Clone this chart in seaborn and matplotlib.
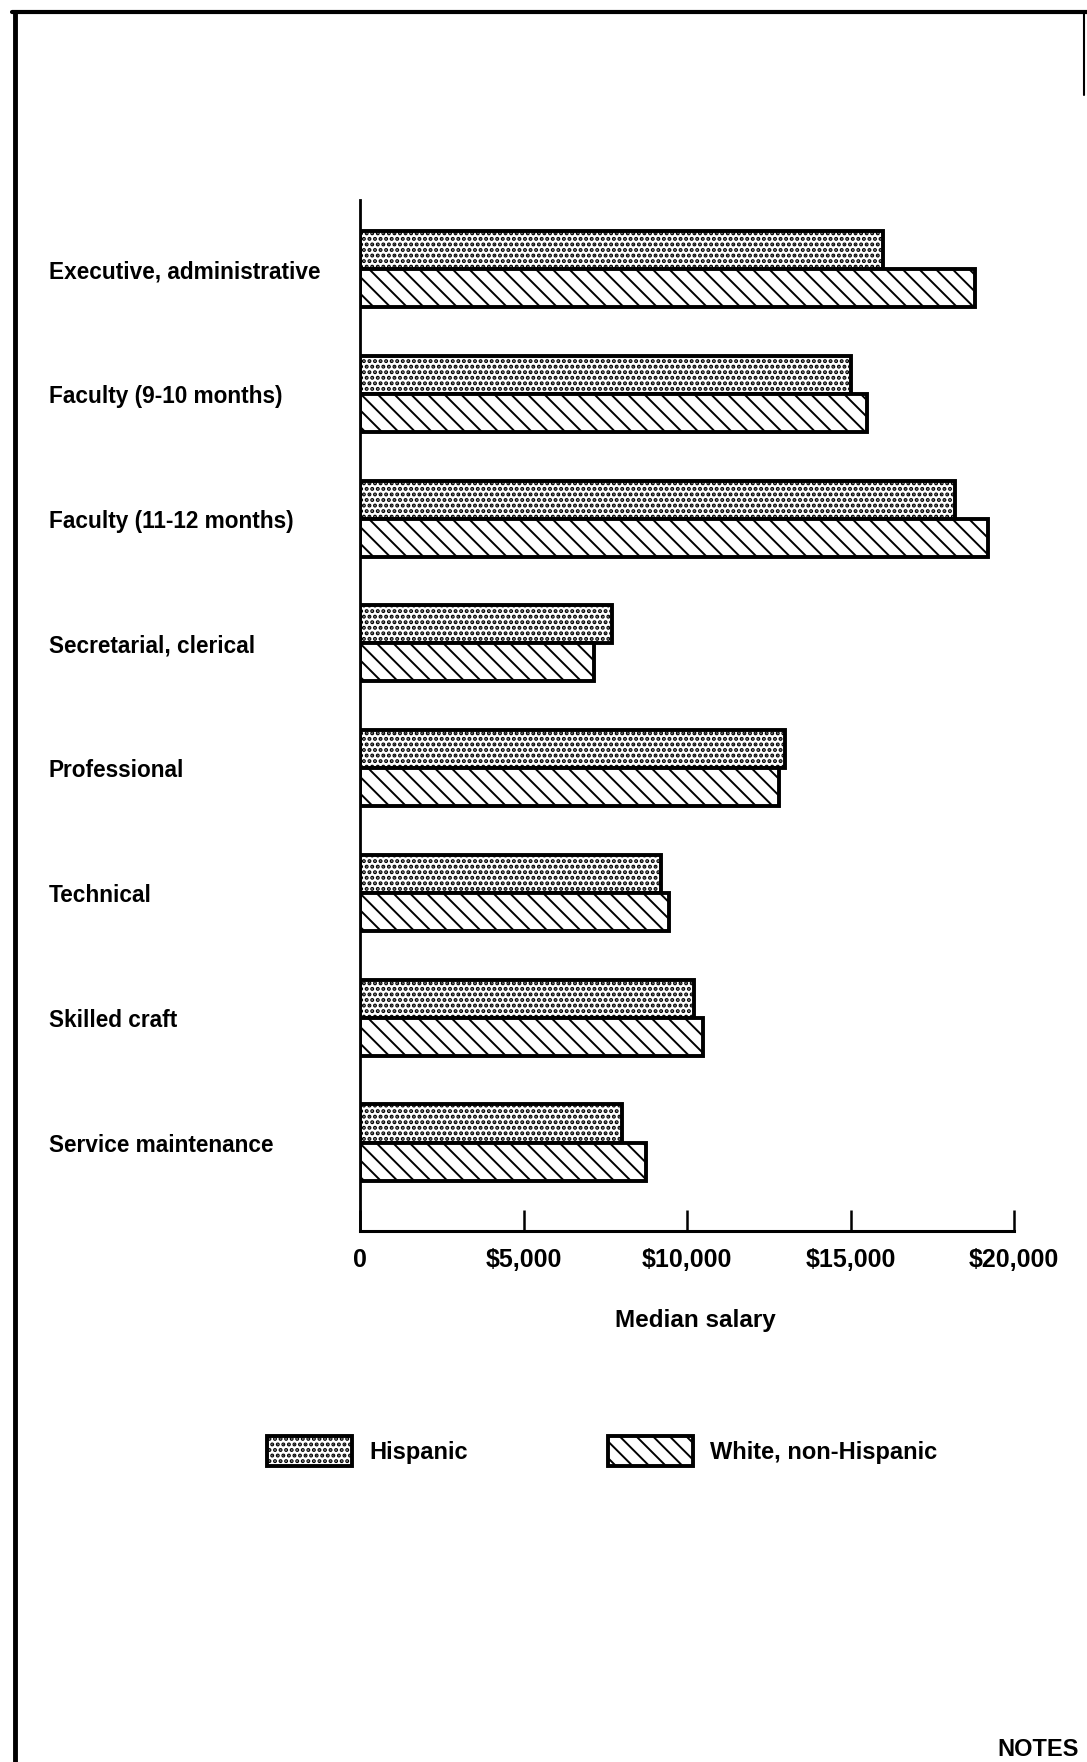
import pandas as pd
import matplotlib.pyplot as plt
import seaborn as sns
from matplotlib.patches import Patch
from matplotlib.lines import Line2D

occupations = ['Executive, administrative', 'Faculty (9-10 months)', 'Faculty (11-12 months)',
               'Secretarial, clerical', 'Professional', 'Technical', 'Skilled craft',
               'Service maintenance']
hispanic = [16000, 15000, 18200, 7700, 13000, 9200, 10200, 8000]
white = [18800, 15500, 19200, 7150, 12800, 9450, 10500, 8750]
groups = ['Hispanic', 'White, non-Hispanic']
xticks = [0, 5000, 10000, 15000, 20000]
xticklabels = ['0', '$5,000', '$10,000', '$15,000', '$20,000']

df = pd.DataFrame({'occupation': occupations, groups[0]: hispanic, groups[1]: white})
df = df.melt(id_vars='occupation', var_name='group', value_name='salary')

sns.set_style('white')
plt.rcParams['font.family'] = ['Liberation Sans', 'DejaVu Sans']
plt.rcParams['font.weight'] = 'bold'
plt.rcParams['text.color'] = 'black'
plt.rcParams['xtick.color'] = 'black'
plt.rcParams['ytick.color'] = 'black'
plt.rcParams['hatch.linewidth'] = 1.3
plt.rcParams['hatch.color'] = 'black'

fig = plt.figure(figsize=(10.87, 17.62), dpi=100)
ax = fig.add_axes([360/1087, 1-1231/1762, 654/1087, 1031/1762])

sns.barplot(data=df, x='salary', y='occupation', hue='group', orient='h', width=0.61,
            palette=['white', 'white'], edgecolor='black', linewidth=2.8,
            legend=False, ax=ax)

hatches = ['...', '\\\\']
hatch_lw = [2.0, 1.4]


def style_patch(p, h, hlw):
    p.set_hatch(h)
    p.set_edgecolor('black')
    if hasattr(p, 'set_hatch_linewidth'):
        p.set_hatch_linewidth(hlw)


for cont, h, hlw in zip(ax.containers, hatches, hatch_lw):
    for bar in cont:
        style_patch(bar, h, hlw)

ax.set_xlim(0, 20000)
ax.set_ylim(7.709, -0.553)
sns.despine(ax=ax, top=True, right=True)
ax.spines['left'].set_linewidth(2)
ax.spines['bottom'].set_linewidth(2.2)
ax.spines['left'].set_color('black')
ax.spines['bottom'].set_color('black')

ax.set_xticks(xticks)
ax.set_xticklabels(xticklabels, fontsize=18, fontweight='bold')
ax.tick_params(axis='x', direction='in', length=15, width=1.8, color='black', pad=12, bottom=True)
ax.tick_params(axis='y', length=0, pad=224, labelsize=16.3)
for lab in ax.get_yticklabels():
    lab.set_horizontalalignment('left')
    lab.set_fontweight('bold')
ax.set_xlabel('')
ax.set_ylabel('')

fig.text(695/1087, 1-1321/1762, 'Median salary', ha='center', va='center',
         fontsize=17.5, fontweight='bold')

handles = [Patch(facecolor='white', edgecolor='black', linewidth=2.8, hatch=h) for h in hatches]
leg = fig.legend(handles, groups, loc='center left', bbox_to_anchor=(267/1087, 1-1451/1762),
                 ncol=2, frameon=False, fontsize=17, handlelength=3.6, handleheight=1.6,
                 handletextpad=0.75, columnspacing=5.9, borderpad=0, borderaxespad=0)
for p, h, hlw in zip(leg.legend_handles, hatches, hatch_lw):
    style_patch(p, h, hlw)

# page border from the scan
fig.add_artist(Line2D([15/1087, 15/1087], [0, 1-12/1762], color='black', lw=3.5,
                      transform=fig.transFigure))
fig.add_artist(Line2D([12/1087, 1], [1-12/1762, 1-12/1762], color='black', lw=3,
                      transform=fig.transFigure))
fig.add_artist(Line2D([1084/1087, 1084/1087], [1-12/1762, 1-95/1762], color='black', lw=1.5,
                      transform=fig.transFigure))
fig.text(997/1087, 1/1762, 'NOTES', ha='left', va='bottom', fontsize=17, fontweight='bold')

fig.savefig('out.png', dpi=100)
